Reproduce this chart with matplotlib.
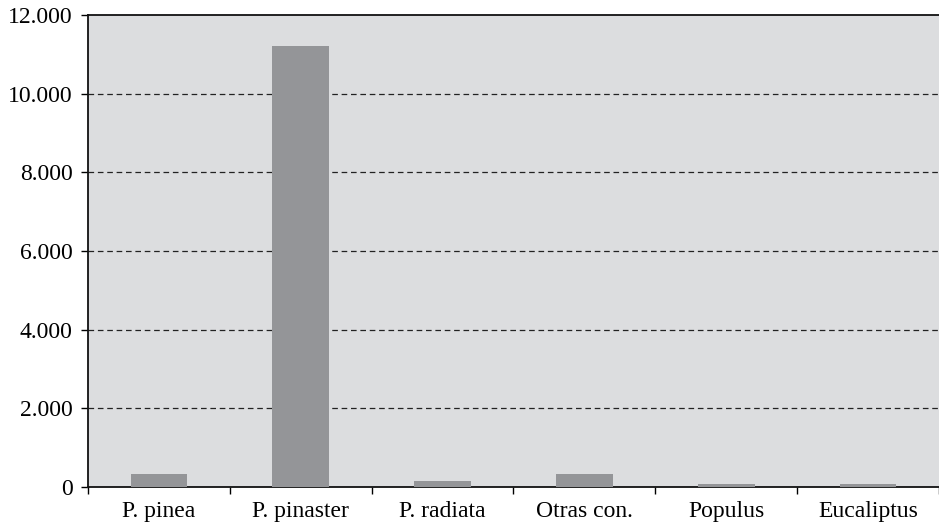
import numpy as np
import matplotlib.pyplot as plt
from matplotlib.ticker import FuncFormatter, MultipleLocator

# Datos
especies = ['P. pinea', 'P. pinaster', 'P. radiata', 'Otras con.', 'Populus', 'Eucaliptus']
valores = [330, 11200, 140, 330, 70, 70]

plt.rcParams['font.family'] = ['Liberation Serif', 'DejaVu Serif']

fig = plt.figure(figsize=(9.39, 5.27), dpi=100)
ax = fig.add_axes([88 / 939, 40 / 527, 851 / 939, 472 / 527])
ax.set_facecolor('#dcdddf')

x = np.arange(len(especies))
ax.bar(x, valores, width=0.4, color='#949598', zorder=3)

ax.set_xlim(-0.5, len(especies) - 0.5)
ax.set_ylim(0, 12000)
ax.yaxis.set_major_locator(MultipleLocator(2000))
ax.yaxis.set_major_formatter(FuncFormatter(lambda v, p: f'{int(v):,}'.replace(',', '.')))
for v in range(2000, 12000, 2000):
    ax.axhline(v, color='#222222', linestyle=(0, (4.5, 3)), linewidth=0.9, zorder=2)

# Ticks del eje x en los límites de las categorías
ax.set_xticks(x)
ax.set_xticklabels(especies)
ax.set_xticks(np.arange(-0.5, len(especies), 1.0), minor=True)
ax.tick_params(axis='x', which='major', length=0, labelsize=17, pad=10)
ax.tick_params(axis='x', which='minor', length=5, width=1, direction='out')
ax.tick_params(axis='y', length=5, width=1, labelsize=17, pad=6)

for s in ['left', 'bottom', 'top']:
    ax.spines[s].set_color('#111111')
    ax.spines[s].set_linewidth(1.3)
ax.spines['right'].set_visible(False)

fig.savefig('out.png', dpi=100)
